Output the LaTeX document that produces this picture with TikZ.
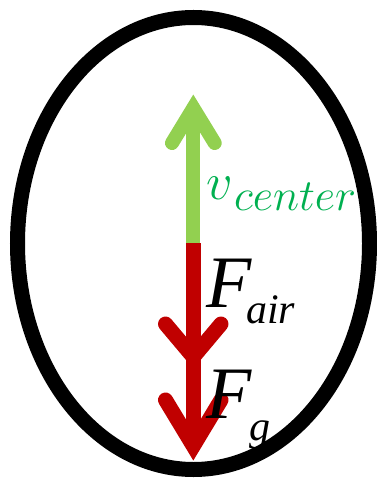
\documentclass[tikz,border=0pt]{standalone}
\usepackage{fontspec}
\setmainfont{Liberation Serif}
\definecolor{velgreen}{HTML}{92D050}
\definecolor{textgreen}{HTML}{00B050}
\definecolor{forcered}{HTML}{C00000}
\begin{document}
\begin{tikzpicture}[x=1pt,y=-1pt,
  ring/.style={draw=black,line width=15pt},
  vel/.style={draw=velgreen,line width=14pt},
  force/.style={draw=forcered,line width=15pt},
  head/.style={line cap=round,line join=miter,miter limit=10},
  lbl/.style={inner sep=0pt,anchor=base west}]
\useasboundingbox (0,0) rectangle (376,478);
\coordinate (c) at (193.3,243);
\coordinate (vtip) at (193.3,108);
\coordinate (vl) at (172,143);
\coordinate (vr) at (214.7,143);
\coordinate (atip) at (193.3,357);
\coordinate (al) at (165.5,324);
\coordinate (ar) at (221,324);
\coordinate (gtip) at (193.3,446);
\coordinate (gl) at (165.5,400);
\coordinate (gr) at (221,400);
\draw[vel] (c) -- (vtip);
\draw[vel,head] (vl) -- (vtip) -- (vr);
\draw[force] (c) -- (gtip);
\draw[force,head] (al) -- (atip) -- (ar);
\draw[force,head] (gl) -- (gtip) -- (gr);
\node[lbl,text=textgreen,font=\fontsize{24.88}{30}\selectfont] (v) at (206,200) {\scalebox{2.1}{$v$}};
\node[lbl,text=textgreen,font=\fontsize{20.74}{25}\selectfont] (vsub) at (234,210) {\scalebox{2.15}{$center$}};
\node[lbl,font=\fontsize{74}{80}\selectfont\itshape] (F1) at (206,307) {F};
\node[lbl,font=\fontsize{42}{48}\selectfont\itshape] (air) at (246,323) {air};
\node[lbl,font=\fontsize{74}{80}\selectfont\itshape] (F2) at (206,418) {F};
\node[lbl,font=\fontsize{42}{48}\selectfont\itshape] (g) at (249,440) {g};
\draw[ring] (193.5,243.5) ellipse [x radius=176pt, y radius=226pt];
\end{tikzpicture}
\end{document}
